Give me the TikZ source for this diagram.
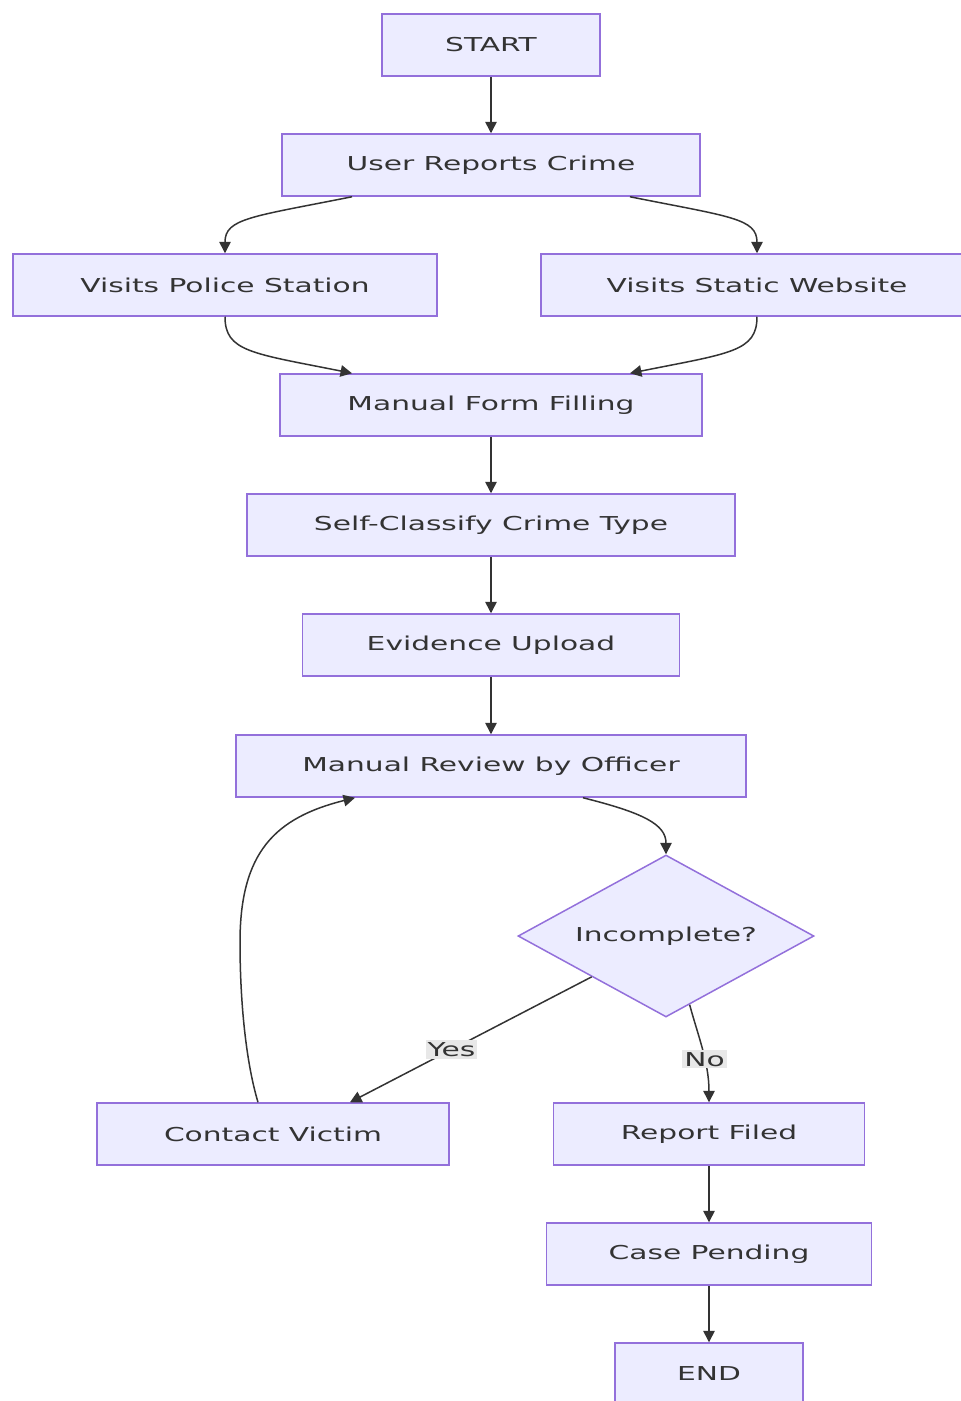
\documentclass[tikz,border=0pt]{standalone}
\usepackage{fontspec}
\setmainfont{DejaVu Sans}[FakeStretch=1.55]
\usetikzlibrary{shapes.geometric}
\usetikzlibrary{arrows.meta}
\definecolor{boxfill}{HTML}{ECECFF}
\definecolor{boxline}{HTML}{9370DB}
\definecolor{edgeline}{HTML}{333333}
\definecolor{labelfill}{HTML}{E8E8E8}

\begin{document}
\begin{tikzpicture}
		[
			x = 0.02cm, y = -0.02cm,
			procbox/.style = {rectangle, fill = boxfill, draw = boxline, line width = 0.3mm, minimum height = 1.24cm, inner sep = 0cm, font = \fontsize{10.9}{13}\selectfont, text = edgeline},
			decision/.style = {diamond, aspect = 1.83, fill = boxfill, draw = boxline, line width = 0.3mm, minimum width = 5.92cm, minimum height = 3.24cm, inner sep = 0cm, font = \fontsize{10.9}{13}\selectfont, text = edgeline},
			flow/.style = {draw = edgeline, line width = 0.3mm, -{Triangle[length = 2.3mm, width = 2.3mm]}},
			flowlabel/.style = {fill = labelfill, inner sep = 0.04cm, font = \fontsize{10.9}{13}\selectfont, text = edgeline},
		]
			%
			\useasboundingbox (0,0) rectangle (961,1401);
			%
			\node (start) [procbox, minimum width = 4.36cm] at (491,45) {START};
			\node (userreport) [procbox, minimum width = 8.36cm] at (491,165) {User Reports Crime};
			\node (police) [procbox, minimum width = 8.48cm] at (225,285) {Visits Police Station};
			\node (website) [procbox, minimum width = 8.64cm] at (757,285) {Visits Static Website};
			\node (form) [procbox, minimum width = 8.44cm] at (491,405) {Manual Form Filling};
			\node (classify) [procbox, minimum width = 9.76cm] at (491,525) {Self-Classify Crime Type};
			\node (evidence) [procbox, minimum width = 7.54cm] at (491,645) {Evidence Upload};
			\node (review) [procbox, minimum width = 10.2cm] at (491,766) {Manual Review by Officer};
			\node (incomplete) [decision] at (666,936) {Incomplete?};
			\node (contact) [procbox, minimum width = 7.04cm] at (273,1134) {Contact Victim};
			\node (filed) [procbox, minimum width = 6.22cm] at (709,1134) {Report Filed};
			\node (pending) [procbox, minimum width = 6.5cm] at (709,1254) {Case Pending};
			\node (end) [procbox, minimum width = 3.76cm] at (709,1374) {END};
			%
			\draw [flow] (start) -- (userreport);
			\draw [flow] ([xshift = -2.78cm]userreport.south) .. controls +(-100,20) and +(0,-35) .. (police.north);
			\draw [flow] ([xshift = 2.78cm]userreport.south) .. controls +(100,20) and +(0,-35) .. (website.north);
			\draw [flow] (police.south) .. controls +(0,35) and +(-100,-20) .. ([xshift = -2.78cm]form.north);
			\draw [flow] (website.south) .. controls +(0,35) and +(100,-20) .. ([xshift = 2.78cm]form.north);
			\draw [flow] (form) -- (classify);
			\draw [flow] (classify) -- (evidence);
			\draw [flow] (evidence) -- (review);
			\draw [flow] ([xshift = 1.84cm]review.south) .. controls +(60,15) and +(0,-30) .. (incomplete.north);
			\draw [flow] (incomplete.south west) -- node [flowlabel, pos = 0.58] {Yes} ([xshift = 1.54cm]contact.north);
			\draw [flow] (incomplete.-71) .. controls +(8,30) and +(0,-40) .. node [flowlabel, pos = 0.6] {No} (filed.north);
			\draw [flow] ([xshift = -0.3cm]contact.north) .. controls +(-12,-40) and +(0,60) .. ++(-18,-160)
				.. controls +(0,-90) and +(-80,20) .. ([xshift = -2.72cm]review.south);
			\draw [flow] (filed) -- (pending);
			\draw [flow] (pending) -- (end);
			%
		\end{tikzpicture}
\end{document}
